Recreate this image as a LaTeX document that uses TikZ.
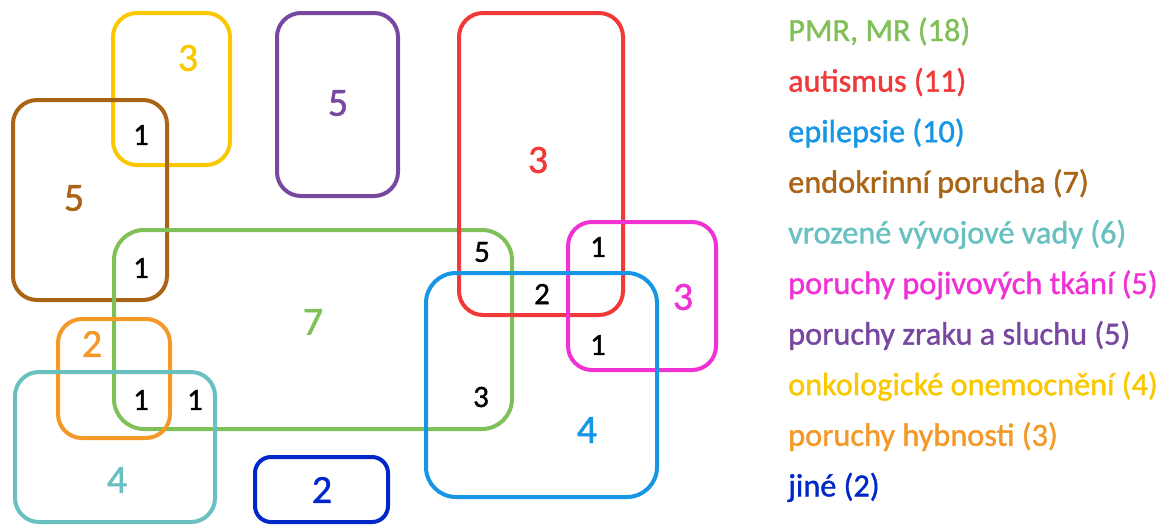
\documentclass[tikz,border=0pt]{standalone}
\usepackage{fontspec}
\setmainfont[FakeBold=1.2]{Carlito}

\definecolor{pmrgreen}{RGB}{128,192,88}
\definecolor{autred}{RGB}{240,58,58}
\definecolor{epiblue}{RGB}{22,150,228}
\definecolor{endobrown}{RGB}{170,100,22}
\definecolor{vvvteal}{RGB}{104,192,192}
\definecolor{pojmagenta}{RGB}{240,50,212}
\definecolor{zrakpurple}{RGB}{120,72,160}
\definecolor{onkoyellow}{RGB}{250,200,0}
\definecolor{hybnorange}{RGB}{244,152,40}
\definecolor{jinenavy}{RGB}{0,40,200}

\tikzset{
  setbox/.style = {line width=4pt, rounded corners=24pt},
  setnum/.style = {font=\fontsize{40}{44}\selectfont, inner sep=0pt},
  cutnum/.style = {font=\fontsize{31}{34}\selectfont, inner sep=0pt, black},
  legitem/.style = {font=\fontsize{32.3}{38}\selectfont, anchor=base west,
    inner sep=0pt},
}

\begin{document}
\begin{tikzpicture}[x=1pt, y=-1pt]
  \useasboundingbox (0,0) rectangle (1169,525);

  % the sets
  \draw[setbox, onkoyellow] (113,13) rectangle (230,165);
  \draw[setbox, endobrown] (13,100) rectangle (167,300);
  \draw[setbox, zrakpurple] (277,13) rectangle (398,196);
  \draw[setbox, pmrgreen, rounded corners=30pt] (114,230) rectangle (512,429);
  \draw[setbox, autred] (459,13) rectangle (623,315);
  \draw[setbox, pojmagenta] (568,222) rectangle (716,370);
  \draw[setbox, epiblue, rounded corners=30pt] (426,273) rectangle (657,497);
  \draw[setbox, hybnorange] (58,319) rectangle (170,438);
  \draw[setbox, vvvteal] (15,372) rectangle (215,522);
  \draw[setbox, jinenavy, rounded corners=16pt] (255,457) rectangle (388,522);

  % counts of single sets
  \node[setnum, onkoyellow] (c-onko) at (188,58) {3};
  \node[setnum, endobrown] (c-endo) at (74,198) {5};
  \node[setnum, zrakpurple] (c-zrak) at (338,103) {5};
  \node[setnum, pmrgreen] (c-pmr) at (313,322) {7};
  \node[setnum, autred] (c-aut) at (538,160) {3};
  \node[setnum, pojmagenta] (c-poj) at (683,297) {3};
  \node[setnum, epiblue] (c-epi) at (587,430) {4};
  \node[setnum, hybnorange] (c-hybn) at (92,344) {2};
  \node[setnum, vvvteal] (c-vvv) at (117,480) {4};
  \node[setnum, jinenavy] (c-jine) at (322,490) {2};

  % counts of overlaps
  \node[cutnum] (x-onkoendo) at (141,135) {1};
  \node[cutnum] (x-endopmr) at (141,268) {1};
  \node[cutnum] (x-hybnvvv) at (141,400) {1};
  \node[cutnum] (x-pmrvvv) at (195,400) {1};
  \node[cutnum] (x-pmraut) at (482,252) {5};
  \node[cutnum] (x-pmrepi) at (481,397) {3};
  \node[cutnum] (x-autepi) at (542,294) {2};
  \node[cutnum] (x-autpoj) at (598,247) {1};
  \node[cutnum] (x-epipoj) at (598,345) {1};

  % legend
  \foreach \col/\txt [count=\i from 0] in {
      pmrgreen/{PMR, MR (18)},
      autred/{autismus (11)},
      epiblue/{epilepsie (10)},
      endobrown/{endokrinní porucha (7)},
      vvvteal/{vrozené vývojové vady (6)},
      pojmagenta/{poruchy pojivových tkání (5)},
      zrakpurple/{poruchy zraku a sluchu (5)},
      onkoyellow/{onkologické onemocnění (4)},
      hybnorange/{poruchy hybnosti (3)},
      jinenavy/{jiné (2)}}
    \node[legitem, text=\col] (leg-\i) at (788,41+50.6*\i) {\txt};
\end{tikzpicture}
\end{document}
